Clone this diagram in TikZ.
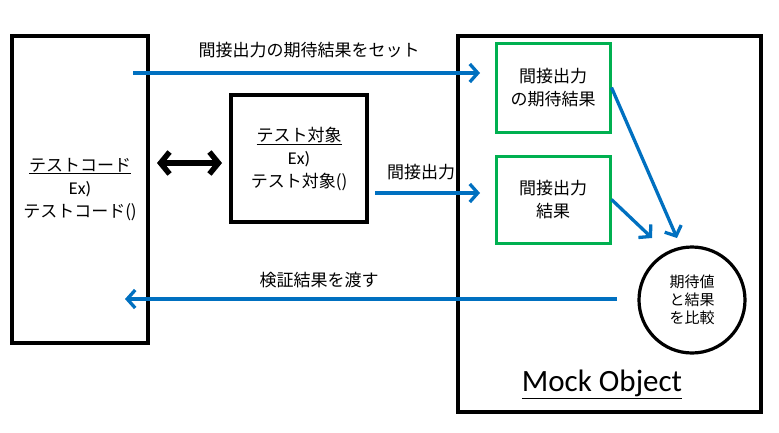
\documentclass[tikz,border=0pt]{standalone}
\usepackage{fontspec}
\setmainfont{Noto Sans CJK JP}
\newfontfamily\mocklatin{Carlito}
\usetikzlibrary{arrows.meta}
\definecolor{flowblue}{HTML}{0070C0}
\definecolor{mockgreen}{HTML}{00B050}
\newcommand{\exsize}{\mocklatin\fontsize{18}{20}\selectfont}

\begin{document}
\begin{tikzpicture}[x=1pt, y=-1pt,
    box/.style={draw, line width=3.5pt, inner sep=0pt, align=center, font=\fontsize{17}{23}\selectfont},
    gbox/.style={box, draw=mockgreen, line width=3pt, minimum width=114},
    flow/.style={draw=flowblue, line width=3.3pt, -{Straight Barb[length=8pt, width=18pt, line width=3.3pt]}},
    link/.style={line width=5.5pt, {Straight Barb[length=9pt, width=22pt, line width=5.5pt]}-{Straight Barb[length=9pt, width=22pt, line width=5.5pt]}},
    lbl/.style={font=\fontsize{17}{20}\selectfont, inner sep=0pt}]
    \useasboundingbox (0,0) rectangle (779,432);
    % caller and system under test
    \node[box, minimum width=136, minimum height=307] (code) at (80,189.5)
        {\underline{テストコード}\\{\exsize Ex)}\\テストコード()};
    \node[box, minimum width=136, minimum height=127] (target) at (299,158.5)
        {\underline{テスト対象}\\{\exsize Ex)}\\テスト対象()};
    \node[lbl] (outlabel) at (421,172) {間接出力};
    % mock object
    \node[box, minimum width=303, minimum height=376] (mock) at (609.5,224) {};
    \node[font=\mocklatin\fontsize{31}{31}\selectfont] (mocklabel) at (602,384) {\underline{Mock Object}};
    \node[gbox, minimum height=89] (expect) at (553,87.5) {間接出力\\の期待結果};
    \node[gbox, minimum height=87] (result) at (553,199.5) {間接出力\\結果};
    \node[circle, draw, line width=3.2pt, minimum size=106, inner sep=0pt, align=center,
          font=\fontsize{15}{18}\selectfont] (compare) at (692,300) {期待値\\と結果\\を比較};
    \node[lbl] (setlabel) at (309,50) {間接出力の期待結果をセット};
    \node[lbl] (retlabel) at (319,280) {検証結果を渡す};
    % arrow ends
    \coordinate (setfrom) at (133,73);
    \coordinate (setto) at (480,73);
    \coordinate (outfrom) at (375,193);
    \coordinate (outto) at (480,193);
    \coordinate (cmpA) at (677,238);
    \coordinate (cmpB) at (652,238);
    \coordinate (retfrom) at (617,299);
    \coordinate (retto) at (125,299);
    \coordinate (linkL) at (157,163);
    \coordinate (linkR) at (222,163);
    \draw[link] (linkL) -- (linkR);
    \draw[flow] (setfrom) -- (setto);
    \draw[flow] (outfrom) -- (outto);
    \draw[flow] (expect.east) -- (cmpA);
    \draw[flow] (result.east) -- (cmpB);
    \draw[flow] (retfrom) -- (retto);
\end{tikzpicture}
\end{document}
